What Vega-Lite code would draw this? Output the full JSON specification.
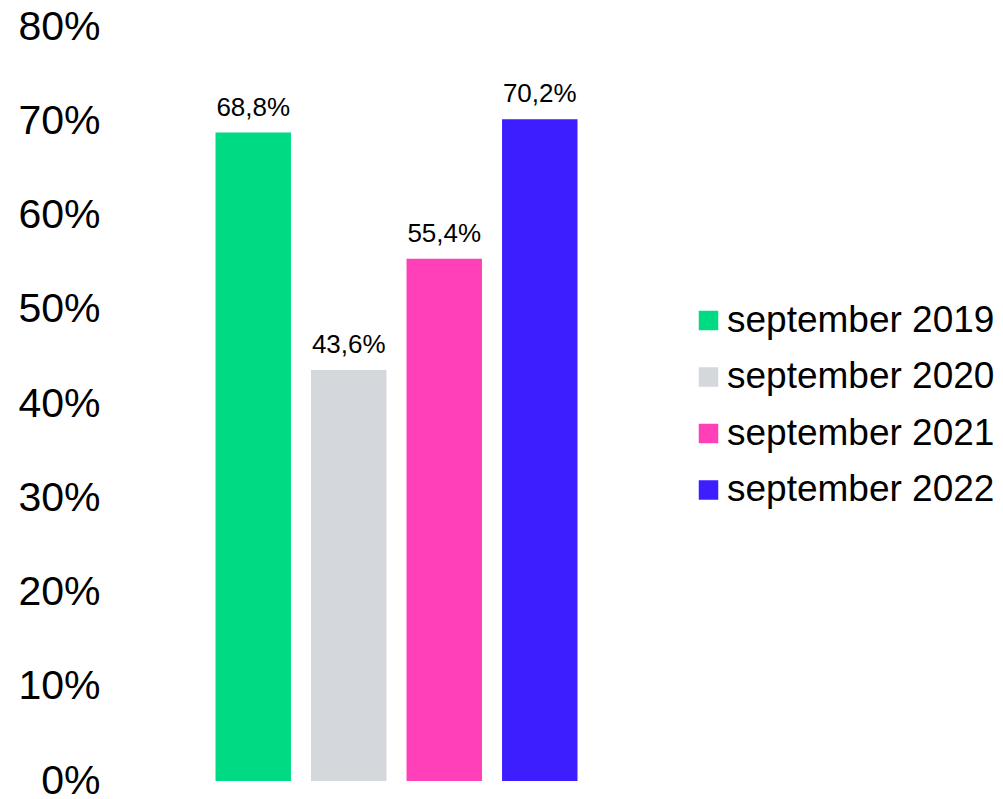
{
  "$schema": "https://vega.github.io/schema/vega-lite/v6.json",
  "autosize": "none",
  "padding": {"left": 120, "top": 27, "right": 330, "bottom": 18},
  "width": 553,
  "height": 754,
  "config": {
    "view": {"stroke": null},
    "font": "Liberation Sans",
    "locale": {"number": {"decimal": ",", "thousands": ".", "grouping": [3], "currency": ["", " €"]}}
  },
  "data": {
    "values": [
      {"period": "september 2019", "share": 0.688},
      {"period": "september 2020", "share": 0.436},
      {"period": "september 2021", "share": 0.554},
      {"period": "september 2022", "share": 0.702}
    ]
  },
  "encoding": {
    "x": {"field": "period", "type": "nominal", "axis": null,
          "scale": {"paddingInner": 0.21, "paddingOuter": 1.057, "round": false}},
    "y": {"field": "share", "type": "quantitative",
          "scale": {"domain": [0, 0.8], "nice": false},
          "axis": {"values": [0, 0.1, 0.2, 0.3, 0.4, 0.5, 0.6, 0.7, 0.8], "format": ".0%",
                   "domain": false, "ticks": false, "grid": false, "title": null,
                   "labelFontSize": 41, "labelColor": "#000000", "labelPadding": 20,
                   "labelFont": "Liberation Sans"}}
  },
  "layer": [
    {
      "mark": {"type": "bar"},
      "encoding": {
        "color": {"field": "period", "type": "nominal",
                  "scale": {"range": ["#00DA82", "#D4D7DB", "#FF40B9", "#3C1EFF"]},
                  "legend": {"title": null, "orient": "none", "legendX": 570, "legendY": 275,
                             "padding": 0,
                             "symbolType": "square", "symbolSize": 380, "symbolStrokeWidth": 0,
                             "symbolOpacity": 1,
                             "labelFontSize": 37, "labelColor": "#000000", "labelFont": "Liberation Sans",
                             "labelOffset": 0, "rowPadding": 18.5, "labelLimit": 400}}
      }
    },
    {
      "mark": {"type": "text", "baseline": "alphabetic", "dy": -17, "fontSize": 26, "color": "#000000"},
      "encoding": {
        "text": {"field": "share", "type": "quantitative", "format": ".1%"}
      }
    }
  ]
}
